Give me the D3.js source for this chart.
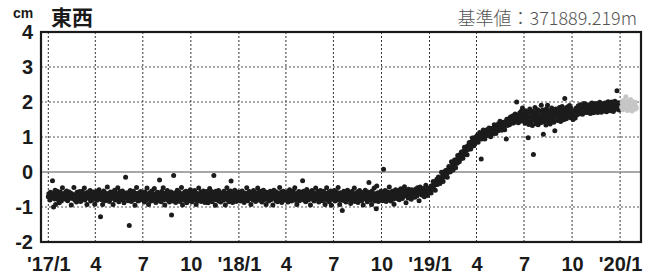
<!DOCTYPE html>
<html>
<head>
<meta charset="utf-8">
<script src="https://cdn.jsdelivr.net/npm/d3@7"></script>
<style>
    body { margin: 0; background: #fff; }
    svg { display: block; }
</style>
</head>
<body>
<div id="chart"></div>
<script>
// Daily east-west values (cm), one array per year, starting on Jan 1
const east2017 = [
    -0.71,-0.62,-0.66,-0.80,-0.58,-0.69,-0.74,-0.63,-0.25,-0.70,-1.00,-0.60,-0.77,-0.52,-0.93,-0.68,-0.64,-0.55,-0.73,-0.79,-0.61,-0.88,-0.67,-0.57,-0.72,-0.83,-0.65,-0.45,-0.70,-0.76,-0.62,
    -0.69,-0.59,-0.78,-0.66,-0.54,-0.73,-0.82,-0.64,-0.70,-0.57,-0.67,-0.75,-0.61,-0.94,-0.72,-0.63,-0.76,-0.68,-0.44,-0.71,-0.81,-0.65,-0.69,-0.86,-0.58,-0.74,-0.62,-0.77,
    -0.66,-0.56,-0.72,-0.84,-0.63,-0.70,-0.55,-0.78,-0.65,-0.73,-0.46,-0.80,-0.67,-0.71,-0.60,-0.93,-0.69,-0.58,-0.75,-0.64,-0.74,-0.53,-0.83,-0.66,-0.61,-0.79,-0.70,-0.57,-0.76,-0.68,-0.92,
    -0.62,-0.71,-0.56,-0.81,-0.68,-0.63,-0.77,-0.51,-0.72,-0.66,-1.28,-0.59,-0.79,-0.70,-0.93,-0.64,-0.54,-0.74,-0.67,-0.82,-0.60,-0.72,-0.65,-0.43,-0.78,-0.69,-0.62,-0.84,-0.73,-0.57,
    -0.67,-0.76,-0.58,-0.70,-0.93,-0.63,-0.74,-0.52,-0.80,-0.68,-0.61,-0.78,-0.69,-0.45,-0.75,-0.85,-0.65,-0.56,-0.72,-0.79,-0.62,-0.68,-0.54,-0.77,-0.66,-0.88,-0.60,-0.73,-0.15,-0.67,-0.76,
    -0.59,-0.70,-0.82,-0.64,-1.53,-0.75,-0.53,-0.68,-0.84,-0.62,-0.72,-0.66,-0.55,-0.79,-0.73,-0.95,-0.61,-0.69,-0.44,-0.76,-0.67,-0.83,-0.60,-0.71,-0.65,-0.80,-0.56,-0.74,-0.63,-0.70,
    -0.78,-0.61,-0.68,-0.86,-0.57,-0.73,-0.66,-0.81,-0.46,-0.71,-0.64,-0.93,-0.69,-0.59,-0.77,-0.67,-0.83,-0.54,-0.72,-0.65,-0.80,-0.70,-0.47,-0.76,-0.62,-0.87,-0.68,-0.75,-0.58,-0.82,-0.69,
    -0.63,-0.23,-0.77,-0.66,-0.85,-0.56,-0.72,-0.68,-0.45,-0.79,-0.62,-0.94,-0.70,-0.59,-0.76,-0.67,-0.53,-0.81,-0.73,-0.64,-0.86,-0.65,-0.75,-0.57,-1.23,-0.78,-0.66,-0.83,-0.10,-0.69,-0.60,
    -0.74,-0.87,-0.63,-0.70,-0.52,-0.80,-0.67,-0.76,-0.58,-0.84,-0.66,-0.73,-0.44,-0.71,-0.94,-0.62,-0.72,-0.81,-0.57,-0.68,-0.78,-0.55,-0.88,-0.65,-0.74,-0.69,-0.82,-0.60,-0.70,-0.51,
    -0.77,-0.65,-0.85,-0.58,-0.72,-0.63,-0.80,-0.53,-0.75,-0.68,-0.93,-0.61,-0.71,-0.66,-0.83,-0.46,-0.74,-0.67,-0.79,-0.57,-0.84,-0.69,-0.62,-0.76,-0.54,-0.81,-0.66,-0.87,-0.64,-0.72,-0.56,
    -0.78,-0.67,-0.88,-0.59,-0.71,-0.47,-0.82,-0.65,-0.75,-0.56,-0.85,-0.69,-0.62,-0.10,-0.77,-0.66,-0.95,-0.55,-0.73,-0.80,-0.61,-0.70,-0.53,-0.83,-0.76,-0.60,-0.86,-0.68,-0.74,-0.63,
    -0.70,-0.81,-0.55,-0.76,-0.65,-0.94,-0.61,-0.73,-0.45,-0.79,-0.68,-0.58,-0.85,-0.64,-0.75,-0.54,-0.26,-0.78,-0.67,-0.87,-0.60,-0.72,-0.82,-0.52,-0.77,-0.66,-0.84,-0.62,-0.73,-0.57,-0.80
];
const east2018 = [
    -0.67,-0.75,-0.58,-0.83,-0.64,-0.72,-0.54,-0.79,-0.69,-0.62,-0.87,-0.71,-0.60,-0.77,-0.66,-0.45,-0.74,-0.82,-0.63,-0.68,-0.56,-0.76,-0.65,-0.93,-0.59,-0.73,-0.64,-0.80,-0.53,-0.75,-0.69,
    -0.61,-0.84,-0.59,-0.72,-0.67,-0.46,-0.78,-0.68,-0.57,-0.81,-0.65,-0.74,-0.55,-0.86,-0.63,-0.71,-0.52,-0.79,-0.62,-0.73,-0.67,-0.93,-0.58,-0.70,-0.77,-0.63,-0.83,-0.66,
    -0.73,-0.55,-0.79,-0.64,-0.74,-0.60,-0.94,-0.67,-0.52,-0.76,-0.69,-0.62,-0.82,-0.57,-0.71,-0.85,-0.63,-0.75,-0.66,-0.44,-0.78,-0.68,-0.58,-0.87,-0.64,-0.72,-0.55,-0.81,-0.67,-0.74,-0.61,
    -0.69,-0.80,-0.57,-0.65,-0.86,-0.62,-0.73,-0.51,-0.77,-0.67,-0.59,-0.83,-0.64,-0.74,-0.54,-0.78,-0.69,-0.45,-0.81,-0.63,-0.72,-0.93,-0.60,-0.67,-0.76,-0.56,-0.82,-0.66,-0.71,-0.58,
    -0.75,-0.64,-0.25,-0.72,-0.55,-0.81,-0.67,-0.61,-0.85,-0.68,-0.50,-0.76,-0.63,-0.80,-0.57,-0.71,-0.66,-0.94,-0.62,-0.74,-0.53,-0.78,-0.67,-0.59,-0.83,-0.65,-0.72,-0.46,-0.79,-0.66,-0.75,
    -0.56,-0.69,-0.86,-0.62,-0.74,-0.53,-0.79,-0.65,-0.60,-0.82,-0.70,-0.55,-0.77,-0.66,-0.93,-0.61,-0.72,-0.45,-0.80,-0.64,-0.68,-0.58,-0.85,-0.66,-0.75,-0.54,-0.95,-0.70,-0.63,-0.78,
    -0.60,-0.73,-0.53,-0.83,-0.65,-0.75,-0.57,-0.80,-0.68,-0.44,-0.77,-0.63,-0.93,-0.67,-0.59,-0.81,-0.71,-1.10,-0.64,-0.76,-0.55,-0.82,-0.68,-0.61,-0.86,-0.66,-0.74,-0.52,-0.78,-0.67,-0.58,
    -0.79,-0.68,-0.90,-0.61,-0.73,-0.55,-0.81,-0.65,-0.76,-0.46,-0.84,-0.67,-0.62,-0.78,-0.71,-0.57,-0.87,-0.66,-0.74,-0.53,-0.77,-0.69,-0.60,-0.82,-0.64,-0.72,-0.94,-0.58,-0.75,-0.67,-0.52,
    -0.78,-0.64,-0.71,-0.85,-0.57,-0.74,-0.30,-0.66,-0.80,-0.60,-0.69,-0.93,-0.54,-0.77,-0.65,-0.72,-0.46,-0.83,-0.62,-0.70,-1.05,-0.40,-0.76,-0.59,-0.84,-0.67,-0.61,-0.79,-0.68,-0.55,
    -0.74,-0.63,-0.82,-0.66,0.08,-0.60,-0.77,-0.53,-0.71,-0.84,-0.62,-0.68,-0.57,-0.79,-0.65,-0.43,-0.75,-0.64,-0.83,-0.58,-0.70,-0.55,-0.78,-0.63,-0.92,-0.60,-0.67,-0.51,-0.76,-0.64,-0.56,
    -0.72,-0.60,-0.53,-0.79,-0.63,-0.68,-0.48,-0.66,-0.57,-0.76,-0.55,-0.70,-0.61,-0.42,-0.67,-0.58,-0.88,-0.52,-0.64,-0.56,-0.74,-0.49,-0.62,-0.69,-0.54,-0.65,-0.78,-0.51,-0.60,-0.71,
    -0.55,-0.63,-0.58,-0.72,-0.49,-0.60,-0.56,-0.68,-0.45,-0.62,-0.53,-0.82,-0.57,-0.43,-0.61,-0.52,-0.66,-0.59,-0.47,-0.64,-0.55,-0.71,-0.50,-0.58,-0.38,-0.62,-0.53,-0.67,-0.46,-0.57,-0.51
];
const east2019 = [
    -0.52,-0.56,-0.45,-0.60,-0.39,-0.43,-0.46,-0.27,-0.48,-0.38,-0.31,-0.52,-0.31,-0.35,-0.21,-0.36,-0.29,-0.14,-0.30,-0.19,-0.33,-0.19,-0.27,-0.01,-0.18,-0.11,-0.27,-0.04,-0.14,-0.09,0.03,
    -0.10,0.05,-0.04,-0.15,0.06,0.03,0.16,0.00,0.11,0.01,0.12,0.29,0.12,0.24,0.06,0.22,0.17,0.34,0.24,0.12,0.35,0.31,0.25,0.47,0.34,0.42,0.29,0.49,
    0.46,0.38,0.57,0.46,0.50,0.39,0.59,0.51,0.71,0.59,0.51,0.67,0.62,0.49,0.75,0.71,0.65,0.84,0.71,0.75,0.66,0.86,0.74,0.97,0.82,0.89,0.75,0.98,0.90,0.84,0.98,
    0.92,1.04,0.97,0.85,1.03,0.98,1.13,0.95,1.03,0.37,0.94,1.08,1.03,1.20,1.01,1.08,0.94,1.16,1.09,1.06,1.21,1.04,1.15,1.12,1.26,1.08,1.21,1.01,1.19,1.24,
    1.18,1.09,1.26,1.17,1.35,1.16,1.24,1.10,1.32,1.24,1.29,1.18,1.38,1.24,1.28,1.45,1.23,1.34,1.19,1.37,1.31,1.42,1.29,1.36,1.21,1.43,1.34,0.94,1.51,1.33,1.42,
    1.37,1.49,1.35,1.55,1.42,1.58,1.39,1.51,1.45,1.61,1.40,1.56,1.47,1.66,1.44,1.53,2.00,1.48,1.60,1.41,1.63,1.50,1.69,1.45,1.57,1.74,1.49,1.83,1.54,1.64,
    1.46,1.66,1.39,1.75,1.54,1.44,1.71,1.59,0.98,1.36,1.52,1.80,1.58,1.42,1.69,1.53,1.33,1.73,0.50,1.62,1.47,1.84,1.56,1.38,1.70,1.51,1.78,1.35,1.61,1.45,1.74,
    1.55,1.41,1.91,1.66,1.50,1.77,1.08,1.58,1.43,1.72,1.61,1.34,1.81,1.52,1.91,1.64,1.45,1.75,1.57,1.37,1.70,1.60,1.83,1.48,1.68,1.54,1.42,1.76,1.18,1.63,1.80,
    1.57,1.70,1.47,1.79,1.61,1.50,1.84,1.65,1.44,1.74,1.58,1.87,1.53,1.69,1.49,1.81,2.10,1.62,1.77,1.52,1.72,1.86,1.59,1.78,1.64,1.90,1.67,1.55,1.82,1.70,
    1.55,1.66,1.50,1.70,1.58,1.75,1.54,1.69,1.83,1.63,1.79,1.72,1.89,1.66,1.82,1.74,1.92,1.69,1.86,1.77,1.65,1.88,1.79,1.96,1.71,1.85,1.76,1.93,1.70,1.87,1.78,
    1.83,1.70,1.92,1.77,1.67,1.88,1.80,1.97,1.73,1.86,1.69,1.94,1.79,1.87,1.72,1.96,1.76,1.90,1.70,1.84,1.93,1.75,1.99,1.80,1.89,1.71,1.95,1.83,1.76,1.91,
    1.86,1.74,1.97,1.80,1.91,1.72,1.94,1.82,2.01,1.77,1.89,1.96,1.75,1.93,1.81,2.00,1.78,1.90,1.73,1.95,1.85,2.02,1.79,1.94,1.87,2.32,1.81,1.98,1.88,1.77,1.96
];
const east2020 = [1.88, 1.96, 1.79];
// provisional values (grey), continuing right after east2020
const eastProvisional = [
    1.86,1.98,1.78,2.04,1.90,1.82,2.00,1.92,2.15,1.84,1.95,1.76,2.02,1.89,1.97,
    1.80,1.93,2.07,1.87,1.96,1.74,1.91,2.01,1.83,1.94,1.79,1.99,1.88,1.82
];

const yTicks = [-2, -1, 0, 1, 2, 3, 4];
const xTickLabels = ["'17/1", '4', '7', '10', "'18/1", '4', '7', '10', "'19/1", '4', '7', '10', "'20/1"];
const titleText = '東西';
const unitText = 'cm';
const baseText = '基準値：371889.219m';

// Build dated points
function toPoints(values, year, month, day) {
    return values.map((v, i) => ({ date: new Date(Date.UTC(year, month, day + i)), value: v }));
}

const finalPoints = [].concat(
    toPoints(east2017, 2017, 0, 1),
    toPoints(east2018, 2018, 0, 1),
    toPoints(east2019, 2019, 0, 1),
    toPoints(east2020, 2020, 0, 1)
);
const provPoints = toPoints(eastProvisional, 2020, 0, 1 + east2020.length);

// Dimensions
const width = 659;
const height = 278;
const margin = { top: 32, right: 18, bottom: 36, left: 41 };
const plotW = width - margin.left - margin.right;
const plotH = height - margin.top - margin.bottom;

const svg = d3.select('#chart')
    .append('svg')
    .attr('width', width)
    .attr('height', height);

const x = d3.scaleUtc()
    .domain([new Date(Date.UTC(2016, 11, 18)), new Date(Date.UTC(2020, 1, 10))])
    .range([margin.left, margin.left + plotW]);

const y = d3.scaleLinear()
    .domain([-2, 4])
    .range([margin.top + plotH, margin.top]);

const xTicks = d3.utcMonth.every(3).range(new Date(Date.UTC(2017, 0, 1)), new Date(Date.UTC(2020, 0, 2)));

// Grid lines
const grid = svg.append('g');
grid.selectAll('line.v')
    .data(xTicks)
    .enter()
    .append('line')
    .attr('x1', d => x(d))
    .attr('x2', d => x(d))
    .attr('y1', margin.top)
    .attr('y2', margin.top + plotH)
    .attr('stroke', '#333')
    .attr('stroke-width', 1)
    .attr('stroke-dasharray', '2,2');

grid.selectAll('line.h')
    .data(yTicks.filter(t => t !== 0 && t > -2 && t < 4))
    .enter()
    .append('line')
    .attr('x1', margin.left)
    .attr('x2', margin.left + plotW)
    .attr('y1', d => y(d))
    .attr('y2', d => y(d))
    .attr('stroke', '#555')
    .attr('stroke-width', 1)
    .attr('stroke-dasharray', '2,2');

// Zero line
svg.append('line')
    .attr('x1', margin.left)
    .attr('x2', margin.left + plotW)
    .attr('y1', y(0))
    .attr('y2', y(0))
    .attr('stroke', '#8a8a8a')
    .attr('stroke-width', 1.5);

// Points
svg.append('g')
    .selectAll('circle')
    .data(finalPoints)
    .enter()
    .append('circle')
    .attr('cx', d => x(d.date))
    .attr('cy', d => y(d.value))
    .attr('r', 2.5)
    .attr('fill', '#1c1c1c');

svg.append('g')
    .selectAll('circle')
    .data(provPoints)
    .enter()
    .append('circle')
    .attr('cx', d => x(d.date))
    .attr('cy', d => y(d.value))
    .attr('r', 2.5)
    .attr('fill', '#c6c6c6');

// Frame
svg.append('rect')
    .attr('x', margin.left)
    .attr('y', margin.top)
    .attr('width', plotW)
    .attr('height', plotH)
    .attr('fill', 'none')
    .attr('stroke', '#1a1a1a')
    .attr('stroke-width', 2.2);

// Axes (labels only)
const labelFont = '"Liberation Sans", Arial, sans-serif';

const yAxis = svg.append('g')
    .attr('transform', `translate(${margin.left},0)`)
    .call(d3.axisLeft(y).tickValues(yTicks).tickSize(0).tickPadding(8).tickFormat(d => String(d)));
yAxis.select('.domain').remove();
yAxis.selectAll('text')
    .attr('font-family', labelFont)
    .attr('font-weight', 'bold')
    .attr('font-size', '20px')
    .attr('fill', '#1a1a1a');

const xAxis = svg.append('g')
    .attr('transform', `translate(0,${margin.top + plotH})`)
    .call(d3.axisBottom(x).tickValues(xTicks).tickSize(0).tickPadding(15).tickFormat((d, i) => xTickLabels[i]));
xAxis.select('.domain').remove();
xAxis.selectAll('text')
    .attr('font-family', labelFont)
    .attr('font-weight', 'bold')
    .attr('font-size', '20px')
    .attr('fill', '#1a1a1a');

// Unit, title and base value
svg.append('text')
    .attr('x', 13)
    .attr('y', 18)
    .attr('font-family', labelFont)
    .attr('font-weight', 'bold')
    .attr('font-size', '14px')
    .attr('fill', '#1a1a1a')
    .text(unitText);

svg.append('text')
    .attr('x', 51)
    .attr('y', 25)
    .attr('font-family', '"Noto Sans CJK JP", sans-serif')
    .attr('font-weight', 'bold')
    .attr('font-size', '21px')
    .attr('fill', '#1a1a1a')
    .text(titleText);

svg.append('text')
    .attr('x', 637)
    .attr('y', 25)
    .attr('text-anchor', 'end')
    .attr('font-family', '"Noto Sans CJK JP", sans-serif')
    .attr('font-weight', 300)
    .attr('font-size', '18px')
    .attr('fill', '#555')
    .text(baseText);
</script>
</body>
</html>
